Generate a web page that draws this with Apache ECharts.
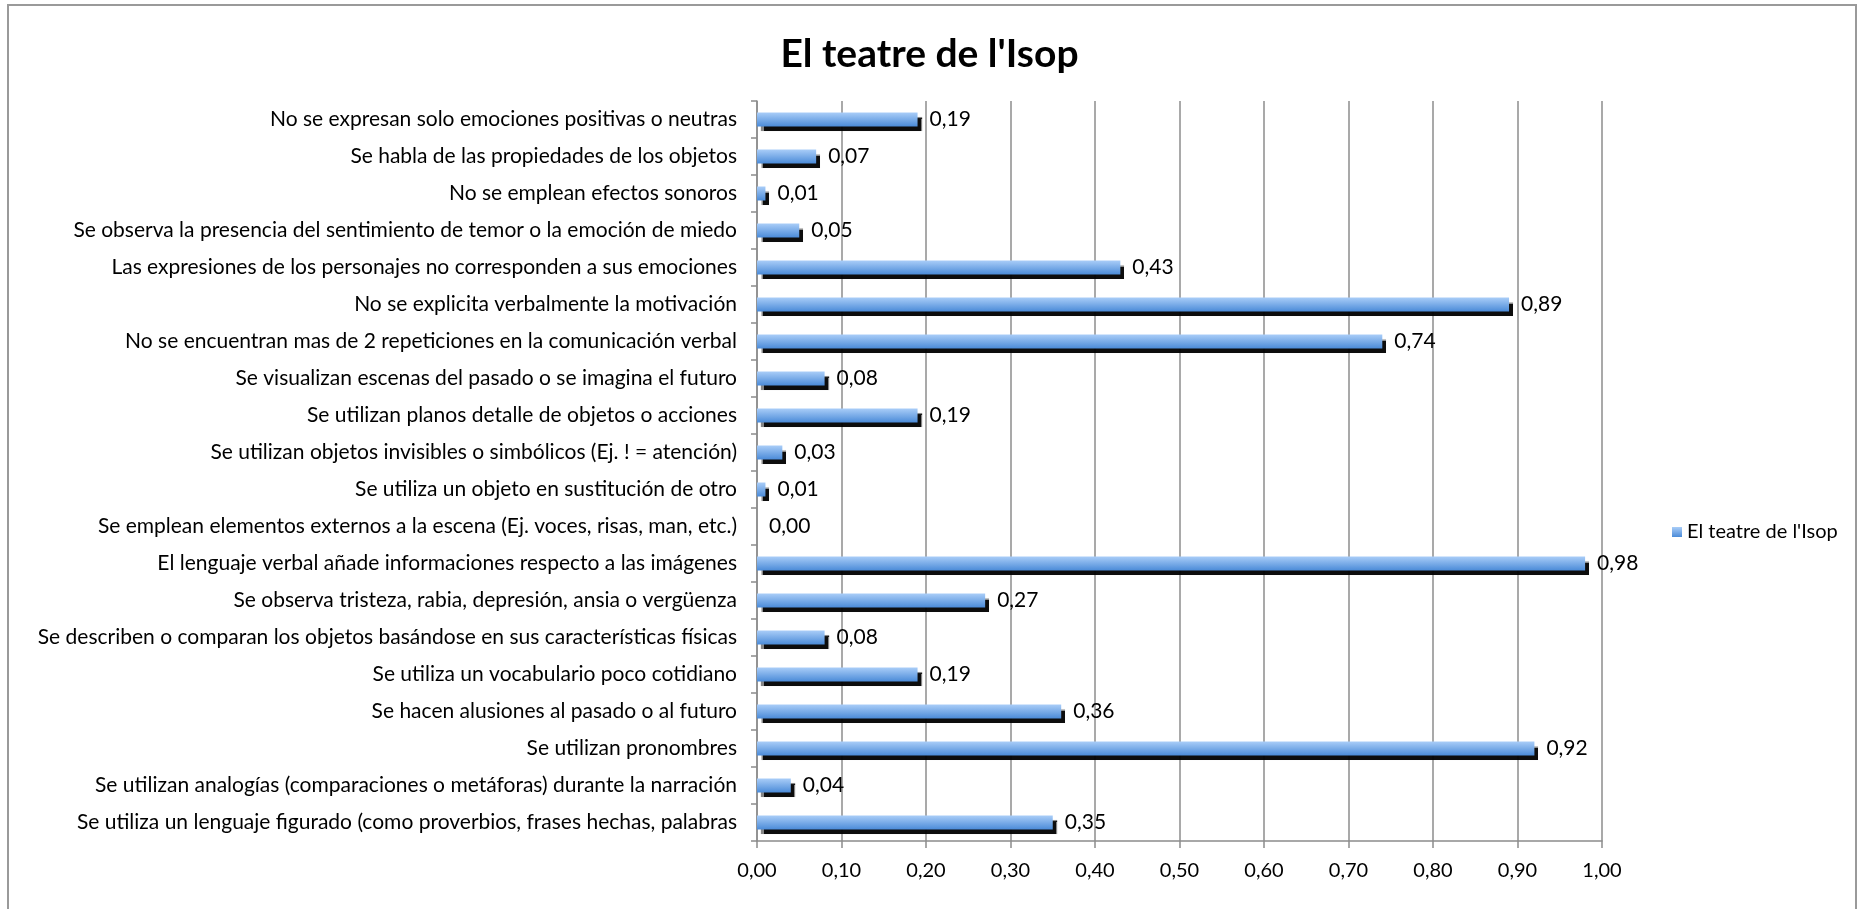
<!DOCTYPE html>
<html>
<head>
<meta charset="utf-8">
<script src="https://cdn.jsdelivr.net/npm/echarts@6/dist/echarts.min.js"></script>
<style>
html,body{margin:0;padding:0;background:#fff;}
#chart{width:1859px;height:909px;}
</style>
</head>
<body>
<div id="chart"></div>
<script>
const title = "El teatre de l'Isop";
const seriesName = "El teatre de l'Isop";
const categories = [
  "No se expresan solo emociones positivas o neutras",
  "Se habla de las propiedades de los objetos",
  "No se emplean efectos sonoros",
  "Se observa la presencia del sentimiento de temor o la emoción de miedo",
  "Las expresiones de los personajes no corresponden a sus emociones",
  "No se explicita verbalmente la motivación",
  "No se encuentran mas de 2 repeticiones en la comunicación verbal",
  "Se visualizan escenas del pasado o se imagina el futuro",
  "Se utilizan planos detalle de objetos o acciones",
  "Se utilizan objetos invisibles o simbólicos (Ej. ! = atención)",
  "Se utiliza un objeto en sustitución de otro",
  "Se emplean elementos externos a la escena (Ej. voces, risas, man, etc.)",
  "El lenguaje verbal añade informaciones respecto a las imágenes",
  "Se observa tristeza, rabia, depresión, ansia o vergüenza",
  "Se describen o comparan los objetos basándose en sus características físicas",
  "Se utiliza un vocabulario poco cotidiano",
  "Se hacen alusiones al pasado o al futuro",
  "Se utilizan pronombres",
  "Se utilizan analogías (comparaciones o metáforas) durante la narración",
  "Se utiliza un lenguaje figurado (como proverbios, frases hechas, palabras"
];
const values = [0.19, 0.07, 0.01, 0.05, 0.43, 0.89, 0.74, 0.08, 0.19, 0.03, 0.01, 0.00, 0.98, 0.27, 0.08, 0.19, 0.36, 0.92, 0.04, 0.35];
const axisMin = 0, axisMax = 1, axisStep = 0.1;

const fmt = v => v.toFixed(2).replace('.', ',');
const FONT = 'Lato';
const chart = echarts.init(document.getElementById('chart'), null, {renderer: 'canvas'});
const barGradient = new echarts.graphic.LinearGradient(0, 0, 0, 1, [
  {offset: 0, color: '#a9cdf8'},
  {offset: 1, color: '#4b8bd8'}
]);
chart.setOption({
  backgroundColor: '#ffffff',
  animation: false,
  title: {
    text: title, left: 'center', top: 30,
    textStyle: {fontFamily: FONT, fontWeight: 'bold', fontSize: 39, color: '#000'}
  },
  graphic: [{
    type: 'rect', silent: true, z: -1,
    shape: {x: 8, y: 5, width: 1848, height: 940},
    style: {fill: 'none', stroke: '#9a9a9a', lineWidth: 2}
  }],
  legend: {
    data: [seriesName], left: 1667, top: 517, orient: 'vertical',
    icon: 'rect', itemWidth: 10, itemHeight: 10, itemGap: 6,
    textStyle: {fontFamily: FONT, fontSize: 20, color: '#000'}
  },
  grid: {left: 757, right: 257, top: 101, bottom: 68, containLabel: false},
  xAxis: {
    type: 'value', min: axisMin, max: axisMax, interval: axisStep,
    axisLine: {show: true, lineStyle: {color: '#8c8c8c', width: 1.5}},
    axisTick: {show: true, length: 7, lineStyle: {color: '#8c8c8c', width: 1.5}},
    axisLabel: {formatter: v => fmt(v), fontFamily: FONT, fontSize: 20, color: '#000', margin: 20},
    splitLine: {show: true, lineStyle: {color: '#8c8c8c', width: 1.5}}
  },
  yAxis: {
    type: 'category', data: categories, inverse: true,
    axisLine: {show: true, lineStyle: {color: '#8c8c8c', width: 1.5}},
    axisTick: {show: true, length: 6, lineStyle: {color: '#8c8c8c', width: 1.5}},
    axisLabel: {fontFamily: FONT, fontSize: 21, color: '#000', margin: 20, interval: 0}
  },
  series: [{
    name: seriesName, type: 'bar', data: values, barWidth: 14,
    itemStyle: {
      color: barGradient,
      shadowColor: 'rgba(0,0,0,0.95)', shadowBlur: 1, shadowOffsetX: 4, shadowOffsetY: 4
    },
    label: {
      show: true, position: 'right', distance: 12,
      formatter: p => fmt(p.value),
      fontFamily: FONT, fontSize: 21, color: '#000'
    }
  }]
});
</script>
</body>
</html>
